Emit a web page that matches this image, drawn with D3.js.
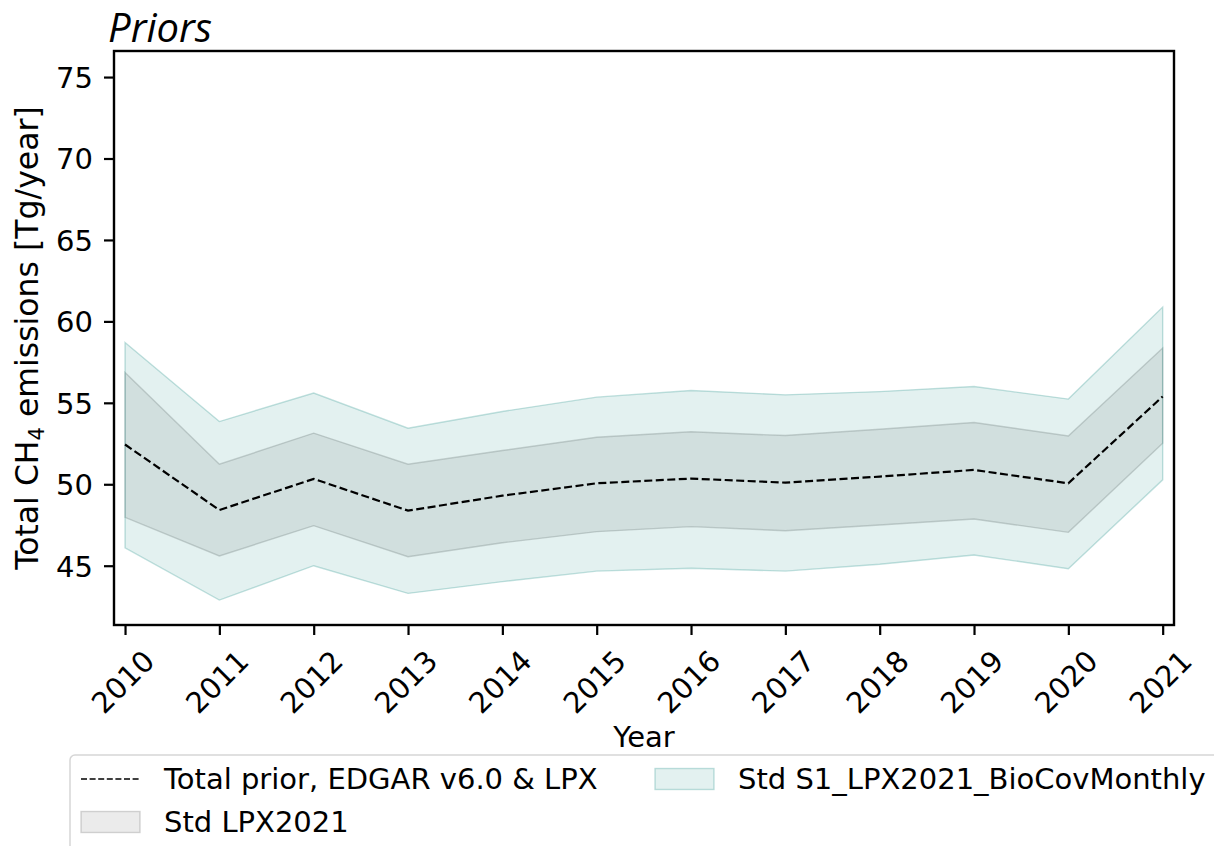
<!DOCTYPE html>
<html>
<head>
<meta charset="utf-8">
<script src="https://cdn.jsdelivr.net/npm/d3@7"></script>
<style>
  html, body { margin: 0; padding: 0; background: #fff; }
  svg { display: block; }
  text { font-family: "DejaVu Sans", sans-serif; fill: #000; }
</style>
</head>
<body>
<svg id="chart" width="1214" height="846"></svg>
<script>
// Yearly totals and standard-deviation bands (Tg/year)
const years = [2010, 2011, 2012, 2013, 2014, 2015, 2016, 2017, 2018, 2019, 2020, 2021];
const totalPrior = [52.44, 48.42, 50.33, 48.38, 49.30, 50.06, 50.35, 50.10, 50.47, 50.88, 50.06, 55.39];
const lpxLower   = [47.97, 45.60, 47.46, 45.55, 46.41, 47.09, 47.40, 47.15, 47.50, 47.87, 47.05, 52.52];
const lpxUpper   = [56.86, 51.23, 53.14, 51.23, 52.07, 52.89, 53.22, 52.99, 53.38, 53.79, 52.97, 58.36];
const s1Lower    = [46.10, 42.89, 45.00, 43.30, 44.02, 44.67, 44.84, 44.67, 45.09, 45.66, 44.82, 50.27];
const s1Upper    = [58.70, 53.85, 55.60, 53.44, 54.47, 55.35, 55.76, 55.49, 55.69, 56.00, 55.23, 60.88];
const yTicks = [45, 50, 55, 60, 65, 70, 75];
const xDomain = [2009.883, 2021.12];
const yDomain = [41.36, 76.6];

const legendItems = [
  { label: "Total prior, EDGAR v6.0 & LPX", kind: "line" },
  { label: "Std LPX2021", kind: "gray" },
  { label: "Std S1_LPX2021_BioCovMonthly", kind: "teal" }
];

const FS = 29;
const plot = { left: 114, right: 1174, top: 51, bottom: 625 };
const svg = d3.select("#chart");

const x = d3.scaleLinear().domain(xDomain).range([plot.left, plot.right]);
const y = d3.scaleLinear().domain(yDomain).range([plot.bottom, plot.top]);

const grayFill = { color: "rgb(128,128,128)", opacity: 0.16, edge: 0.32 };
const tealFill = { color: "rgb(0,128,120)", opacity: 0.11, edge: 0.24 };

const area = (lo, hi) => d3.area()
  .x((d, i) => x(years[i]))
  .y0((d, i) => y(lo[i]))
  .y1((d, i) => y(hi[i]));

const bandOutline = (lo, hi) => {
  const pts = years.map((yr, i) => [x(yr), y(hi[i])])
    .concat(years.map((yr, i) => [x(yr), y(lo[i])]).reverse());
  return "M" + pts.map(p => p.join(",")).join("L") + "Z";
};

const g = svg.append("g");

// Std LPX2021 band
g.append("path")
  .attr("d", area(lpxLower, lpxUpper)(years))
  .attr("fill", grayFill.color).attr("fill-opacity", grayFill.opacity);
g.append("path")
  .attr("d", bandOutline(lpxLower, lpxUpper))
  .attr("fill", "none").attr("stroke", grayFill.color)
  .attr("stroke-opacity", grayFill.edge).attr("stroke-width", 1.4);

// Std S1_LPX2021_BioCovMonthly band
g.append("path")
  .attr("d", area(s1Lower, s1Upper)(years))
  .attr("fill", tealFill.color).attr("fill-opacity", tealFill.opacity);
g.append("path")
  .attr("d", bandOutline(s1Lower, s1Upper))
  .attr("fill", "none").attr("stroke", tealFill.color)
  .attr("stroke-opacity", tealFill.edge).attr("stroke-width", 1.4);

// Total prior line
g.append("path")
  .attr("d", d3.line().x((d, i) => x(years[i])).y(d => y(d))(totalPrior))
  .attr("fill", "none").attr("stroke", "#000")
  .attr("stroke-width", 2.2).attr("stroke-dasharray", "8,3.5");

// Axes
const yAxis = d3.axisLeft(y).tickValues(yTicks).tickSize(10).tickPadding(11).tickFormat(d3.format("d"));
const xAxis = d3.axisBottom(x).tickValues(years).tickSize(10).tickFormat(d3.format("d"));

const gy = svg.append("g").attr("transform", `translate(${plot.left},0)`).call(yAxis);
gy.select(".domain").remove();
gy.selectAll(".tick line").attr("stroke", "#000").attr("stroke-width", 2.2);
gy.selectAll(".tick text").attr("font-size", FS).attr("dy", "0.36em")
  .style("font-family", "DejaVu Sans");

const gx = svg.append("g").attr("transform", `translate(0,${plot.bottom})`).call(xAxis);
gx.select(".domain").remove();
gx.selectAll(".tick line").attr("stroke", "#000").attr("stroke-width", 2.2);
gx.selectAll(".tick text")
  .attr("font-size", FS)
  .attr("text-anchor", "middle")
  .attr("dominant-baseline", "central")
  .attr("y", 0).attr("dy", 0)
  .attr("transform", "translate(-2.5,57) rotate(-45)")
  .style("font-family", "DejaVu Sans");

// Frame
svg.append("rect")
  .attr("x", plot.left).attr("y", plot.top)
  .attr("width", plot.right - plot.left).attr("height", plot.bottom - plot.top)
  .attr("fill", "none").attr("stroke", "#000").attr("stroke-width", 2.4);

// Title
svg.append("text")
  .attr("x", 108).attr("y", 42)
  .attr("font-size", 40).attr("font-style", "italic")
  .style("font-family", "'Open Sans', Lato, sans-serif")
  .text("Priors");

// Axis labels
svg.append("text")
  .attr("x", (plot.left + plot.right) / 2).attr("y", 747)
  .attr("text-anchor", "middle").attr("font-size", FS)
  .text("Year");

const yl = svg.append("text")
  .attr("transform", `translate(38,${(plot.top + plot.bottom) / 2}) rotate(-90)`)
  .attr("text-anchor", "middle").attr("font-size", 31.5);
yl.append("tspan").text("Total CH");
yl.append("tspan").attr("font-size", 21).attr("dy", 6).text("4");
yl.append("tspan").attr("dy", -6).text(" emissions [Tg/year]");

// Legend
const leg = svg.append("g");
leg.append("rect")
  .attr("x", 70).attr("y", 755).attr("width", 1160).attr("height", 140)
  .attr("rx", 5).attr("fill", "#fff").attr("stroke", "#d6d6d6").attr("stroke-width", 1.5);

const legPos = [
  { x: 81, cy: 779 },
  { x: 81, cy: 822 },
  { x: 655, cy: 779 }
];
legendItems.forEach((item, i) => {
  const p = legPos[i];
  if (item.kind === "line") {
    leg.append("line")
      .attr("x1", p.x).attr("x2", p.x + 59).attr("y1", p.cy).attr("y2", p.cy)
      .attr("stroke", "#000").attr("stroke-width", 1.6).attr("stroke-dasharray", "6,2.6");
  } else {
    const f = item.kind === "gray" ? grayFill : tealFill;
    leg.append("rect")
      .attr("x", p.x).attr("y", p.cy - 10.5).attr("width", 59).attr("height", 21)
      .attr("fill", f.color).attr("fill-opacity", f.opacity)
      .attr("stroke", f.color).attr("stroke-opacity", f.edge).attr("stroke-width", 1.4);
  }
  leg.append("text")
    .attr("x", p.x + 83).attr("y", p.cy + 9.5)
    .attr("font-size", FS)
    .text(item.label);
});
</script>
</body>
</html>
